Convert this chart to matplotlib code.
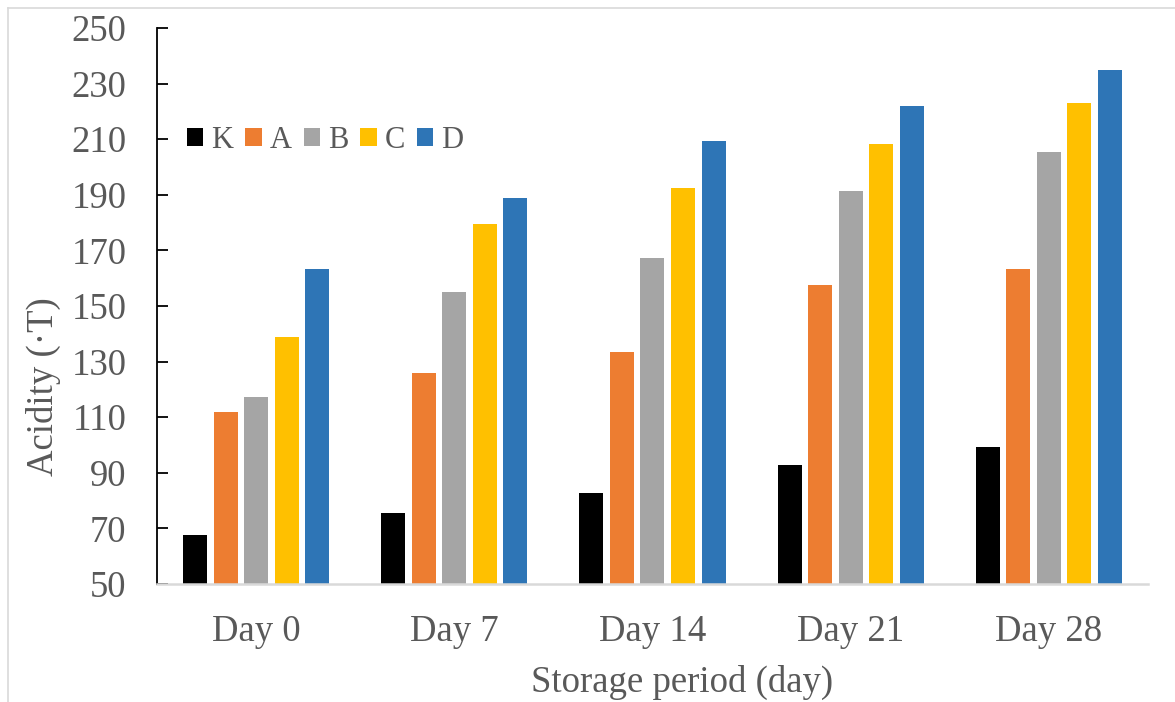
import matplotlib
matplotlib.use("Agg")
import matplotlib.pyplot as plt
from matplotlib.lines import Line2D
import numpy as np

# Acidity values
days = ["Day 0", "Day 7", "Day 14", "Day 21", "Day 28"]
groups = ["K", "A", "B", "C", "D"]
K = [67.8, 75.5, 82.9, 92.8, 99.3]
A = [112.0, 125.9, 133.5, 157.5, 163.4]
B = [117.4, 155.2, 167.2, 191.2, 205.5]
C = [138.9, 179.4, 192.4, 208.3, 222.9]
D = [163.2, 188.7, 209.4, 221.8, 235.0]
yticks = [50, 70, 90, 110, 130, 150, 170, 190, 210, 230, 250]

colors = ["#000000", "#ED7D31", "#A5A5A5", "#FFC000", "#2E75B6"]
series = [K, A, B, C, D]

plt.rcParams['font.family'] = ['Liberation Serif', 'DejaVu Serif']
text_color = "#595959"

fig = plt.figure(figsize=(11.75, 7.02), dpi=100)
ax = fig.add_axes([0.1336, 0.1681, 0.977 - 0.1336, 0.9601 - 0.1681])

x = np.arange(len(days))
step = 0.154
width = 0.121
for i, (vals, col, name) in enumerate(zip(series, colors, groups)):
    ax.bar(x + (i - 2) * step, np.array(vals) - 50, width=width, bottom=50,
           color=col, label=name, zorder=2)

ax.set_xlim(-0.5, 4.5)
ax.set_ylim(50, 250)
ax.set_yticks(yticks)
ax.set_xticks(x)
ax.set_xticklabels(days)

ax.spines['top'].set_visible(False)
ax.spines['right'].set_visible(False)
ax.spines['left'].set_color('black')
ax.spines['left'].set_linewidth(1.3)
ax.spines['bottom'].set_color('#D9D9D9')
ax.spines['bottom'].set_linewidth(1.8)

ax.tick_params(axis='y', direction='in', length=8, width=1.3, color='black',
               labelsize=26.5, labelcolor=text_color, pad=22)
ax.tick_params(axis='x', length=0, labelsize=26.5, labelcolor=text_color, pad=22)

ax.set_xlabel("Storage period (day)", fontsize=26.5, color=text_color)
ax.xaxis.set_label_coords(0.53, -0.146)
ax.set_ylabel("Acidity (·T)", fontsize=26.5, color=text_color)
ax.yaxis.set_label_coords(-0.097, 0.355)

leg = fig.legend(loc='center left', bbox_to_anchor=(187 / 1175, 1 - 140 / 702),
                 ncol=5, frameon=False, fontsize=22, handlelength=0.53,
                 handleheight=0.53, handletextpad=0.26, columnspacing=0.4,
                 borderpad=0, borderaxespad=0)
for t in leg.get_texts():
    t.set_color(text_color)

# chart area border (top and left edges visible)
fig.add_artist(Line2D([8 / 1175, 1.0], [1 - 8 / 702, 1 - 8 / 702],
                      transform=fig.transFigure, color='#D9D9D9', lw=1.2))
fig.add_artist(Line2D([8 / 1175, 8 / 1175], [0.0, 1 - 8 / 702],
                      transform=fig.transFigure, color='#D9D9D9', lw=1.2))

fig.savefig("out.png", dpi=100)
